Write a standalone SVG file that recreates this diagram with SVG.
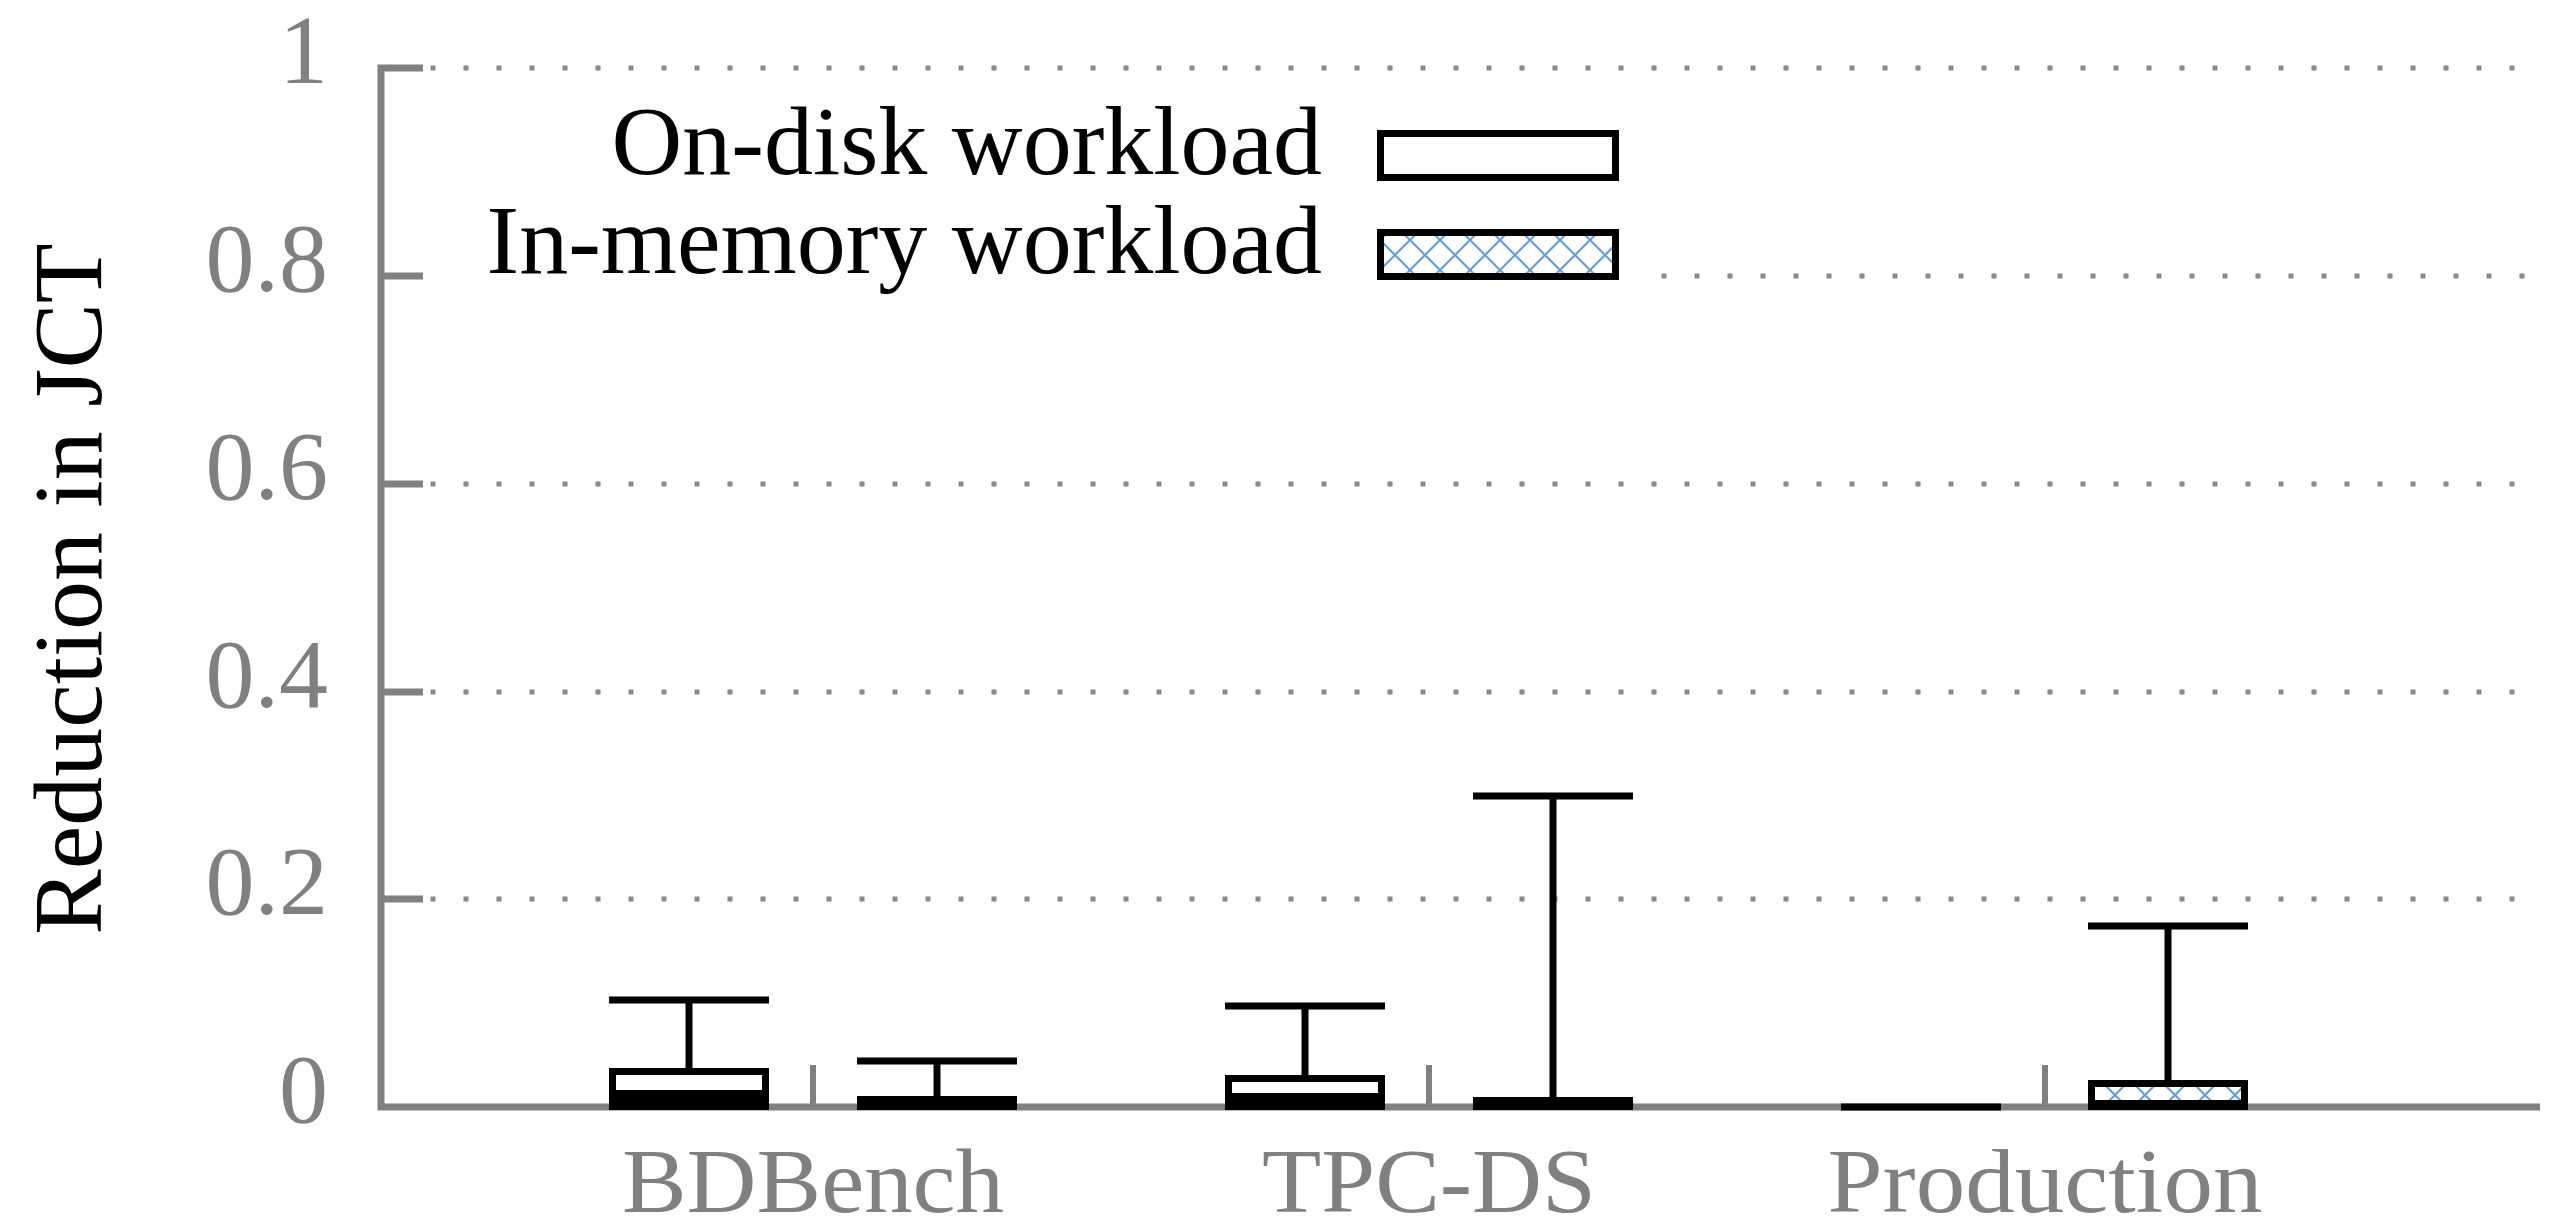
<svg xmlns="http://www.w3.org/2000/svg" width="2559" height="1229" viewBox="0 0 2559 1229">
<style>
.lbl{font-family:"Liberation Serif","Times New Roman",serif;font-size:98px;fill:#808080}
.xl{font-family:"Liberation Serif","Times New Roman",serif;font-size:91px;fill:#808080}
.ttl{font-family:"Liberation Serif","Times New Roman",serif;font-size:98px;fill:#000}
.grid{stroke:#8a8a8a;stroke-width:5;stroke-dasharray:5 28;fill:none}
.axis{stroke:#808080;stroke-width:7;fill:none}
.sep{stroke:#808080;stroke-width:6;fill:none}
.wh{stroke:#000;stroke-width:7;fill:none}
.bx{fill:#fff;stroke:#000;stroke-width:7}
.hx{fill:url(#hatch);stroke:#000;stroke-width:7}
.blk{fill:#000}
</style>
<defs>
<pattern id="hatch" patternUnits="userSpaceOnUse" width="30" height="30">
<rect width="30" height="30" fill="#fff"/>
<path d="M0,0 L30,30 M30,0 L0,30" stroke="#6a9fd4" stroke-width="2.2"/>
</pattern>
</defs>
<rect width="2559" height="1229" fill="#fff"/>

<g id="grid">
<line class="grid" x1="430.5" y1="68" x2="2525" y2="68"/>
<line class="grid" x1="1661.5" y1="276" x2="2525" y2="276"/>
<line class="grid" x1="430.5" y1="484" x2="2525" y2="484"/>
<line class="grid" x1="430.5" y1="692" x2="2525" y2="692"/>
<line class="grid" x1="430.5" y1="899" x2="2525" y2="899"/>
</g>

<g id="axes">
<path class="axis" d="M423,68 H381 V1107 H2540"/>
<path class="axis" d="M381,276 H423 M381,484 H423 M381,692 H423 M381,899 H423"/>
<path class="sep" d="M813,1065 V1107 M1429,1065 V1107 M2045,1065 V1107"/>
</g>

<g id="ytick-labels">
<text class="lbl" x="328" y="83" text-anchor="end">1</text>
<text class="lbl" x="328" y="291" text-anchor="end">0.8</text>
<text class="lbl" x="328" y="499" text-anchor="end">0.6</text>
<text class="lbl" x="328" y="707" text-anchor="end">0.4</text>
<text class="lbl" x="328" y="914" text-anchor="end">0.2</text>
<text class="lbl" x="328" y="1122" text-anchor="end">0</text>
</g>

<g id="y-title">
<text class="ttl" transform="translate(101,589) rotate(-90)" text-anchor="middle">Reduction in JCT</text>
</g>

<g id="xtick-labels">
<text class="xl" x="813" y="1212" text-anchor="middle" textLength="382" lengthAdjust="spacingAndGlyphs">BDBench</text>
<text class="xl" x="1429" y="1212" text-anchor="middle" textLength="334" lengthAdjust="spacingAndGlyphs">TPC-DS</text>
<text class="xl" x="2045" y="1212" text-anchor="middle" textLength="435" lengthAdjust="spacingAndGlyphs">Production</text>
</g>

<g id="legend">
<text class="ttl" x="1322" y="174" text-anchor="end">On-disk workload</text>
<rect class="bx" x="1380.5" y="133.5" width="235" height="44"/>
<text class="ttl" x="1322" y="273" text-anchor="end">In-memory workload</text>
<rect class="hx" x="1380.5" y="232.5" width="235" height="44"/>
</g>

<g id="bdbench-ondisk">
<line class="wh" x1="689" y1="1000" x2="689" y2="1071"/>
<line class="wh" x1="609" y1="1000" x2="769" y2="1000"/>
<rect class="bx" x="612.5" y="1071.5" width="153" height="35"/>
<rect class="blk" x="609" y="1090" width="160" height="20"/>
</g>

<g id="bdbench-inmemory">
<line class="wh" x1="937" y1="1061" x2="937" y2="1097"/>
<line class="wh" x1="857" y1="1061" x2="1017" y2="1061"/>
<rect class="blk" x="857" y="1096" width="160" height="14"/>
</g>

<g id="tpcds-ondisk">
<line class="wh" x1="1305" y1="1006" x2="1305" y2="1079"/>
<line class="wh" x1="1225" y1="1006" x2="1385" y2="1006"/>
<rect class="bx" x="1228.5" y="1078.5" width="153" height="28"/>
<rect class="blk" x="1225" y="1093" width="160" height="17"/>
</g>

<g id="tpcds-inmemory">
<line class="wh" x1="1553" y1="796" x2="1553" y2="1098"/>
<line class="wh" x1="1473" y1="796" x2="1633" y2="796"/>
<rect class="blk" x="1473" y="1097" width="160" height="13"/>
</g>

<g id="production-ondisk">
<rect class="blk" x="1841" y="1103.5" width="160" height="7"/>
</g>

<g id="production-inmemory">
<line class="wh" x1="2168" y1="926" x2="2168" y2="1084"/>
<line class="wh" x1="2088" y1="926" x2="2248" y2="926"/>
<rect class="hx" x="2091.5" y="1083.5" width="153" height="23"/>
<rect class="blk" x="2088" y="1100" width="160" height="10"/>
</g>
</svg>
